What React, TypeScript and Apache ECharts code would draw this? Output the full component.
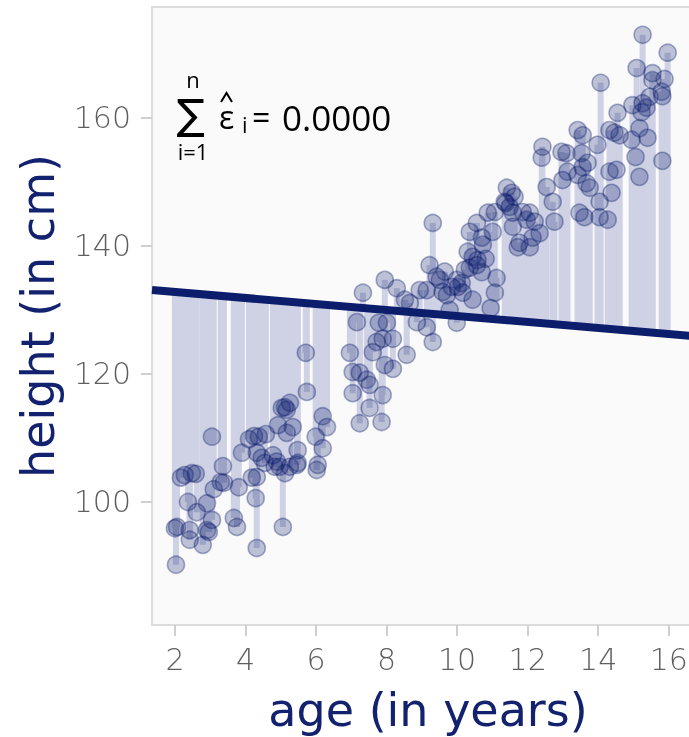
import React, { useEffect, useRef } from "react";
import * as echarts from "echarts";

const ages = [
  2.03, 2.06, 2.0, 2.17, 2.28, 2.48, 2.59, 2.37, 2.42, 2.42,
  2.62, 2.79, 2.91, 2.91, 2.96, 3.05, 3.05, 3.1, 3.3, 3.39,
  3.36, 3.67, 3.76, 3.81, 3.9, 4.1, 4.24, 4.38, 4.58, 4.18,
  4.32, 4.29, 4.32, 4.32, 4.46, 4.55, 4.78, 4.89, 4.83, 4.92,
  4.97, 5.12, 5.26, 5.46, 5.06, 5.03, 5.12, 5.17, 5.26, 5.17,
  5.34, 5.48, 5.48, 5.74, 5.71, 5.99, 6.19, 6.05, 6.02, 6.19,
  6.31,
  6.96, 7.16, 7.33, 7.04, 7.24, 7.44, 7.52, 7.04, 7.52, 7.24,
  7.86, 7.89, 7.61, 7.72, 7.89, 8.18, 7.78, 8.01, 7.95, 8.18,
  8.57, 7.95, 8.29, 8.52, 8.66, 8.86, 9.14, 8.94, 9.14, 9.31,
  9.22, 9.31, 9.42, 9.51, 9.65, 9.59, 9.71, 9.85, 9.99, 9.99,
  10.02, 10.13, 10.16, 9.79, 10.22, 10.36, 10.56, 10.7, 10.44, 10.3,
  10.44, 10.58, 10.81, 10.36, 10.56, 10.7, 10.73, 10.87, 11.01, 11.12,
  11.07, 10.95, 11.41, 11.38,
  11.55, 11.63, 11.35, 11.49, 11.58, 11.86, 12.06, 11.97, 12.2, 11.58,
  11.07, 12.34, 12.14, 11.77, 12.06, 11.72,
  12.42, 12.4, 12.54, 12.71, 12.76, 12.96, 13.1, 13.13, 12.99, 13.42,
  13.56, 13.98, 13.53, 13.7, 13.56, 13.42, 13.67, 13.76, 13.47, 13.61,
  14.04, 14.32, 14.52, 14.38, 14.04, 14.27, 14.07, 14.55, 14.32, 14.46,
  14.61, 14.95, 15.17, 15.4, 15.06, 15.17, 15.82, 15.26, 15.97, 15.09,
  15.54, 15.54, 15.88, 15.8, 15.82, 15.46, 15.26, 15.37, 15.23, 14.97,
];

const heights = [
  90.2, 96.1, 95.9, 103.8, 104.2, 104.5, 104.4, 100.0, 95.6, 94.1,
  98.4, 93.3, 99.8, 95.6, 95.3, 97.2, 110.2, 102.0, 103.1, 103.0,
  105.6, 97.5, 96.1, 102.3, 107.7, 109.8, 110.3, 110.2, 110.6, 103.8,
  103.9, 100.6, 92.8, 107.7, 106.9, 106.1, 107.3, 106.3, 105.5, 112.0,
  105.5, 104.5, 105.5, 105.8, 96.1, 114.7, 114.8, 114.4, 115.5, 110.8,
  111.7, 108.1, 106.1, 117.2, 123.3, 110.2, 108.4, 105.8, 105.0, 113.4,
  111.7,
  123.3, 128.1, 132.7, 120.3, 120.2, 119.1, 118.3, 117.0, 114.7, 112.3,
  112.5, 116.7, 123.4, 125.0, 125.5, 125.5, 128.0, 128.0, 121.4, 120.8,
  123.0, 134.7, 133.4, 131.6, 131.1, 128.1, 127.3, 133.1, 133.1, 125.0,
  137.0, 143.6, 135.2, 134.7, 136.0, 132.8, 132.3, 133.6, 128.0, 134.7,
  133.6, 134.2, 132.7, 130.0, 136.3, 136.6, 137.0, 135.9, 131.6, 139.1,
  138.3, 137.8, 138.0, 142.2, 143.6, 141.3, 140.2, 145.2, 142.2, 135.0,
  132.7, 130.3, 149.1, 146.7,
  148.3, 147.7, 146.9, 146.1, 145.2, 145.3, 145.2, 144.1, 143.8, 143.0,
  145.3, 142.0, 141.3, 140.5, 139.8, 139.8,
  155.5, 153.8, 149.2, 146.9, 143.8, 154.7, 154.5, 151.6, 150.3, 158.1,
  157.3, 155.8, 154.5, 153.0, 152.3, 151.1, 149.8, 149.1, 145.2, 144.5,
  144.5, 151.6, 151.9, 148.3, 146.9, 144.1, 165.5, 160.8, 158.1, 157.7,
  157.3, 156.6, 158.4, 156.9, 153.9, 150.8, 153.3, 173.0, 170.2, 167.8,
  167.0, 165.9, 166.1, 164.1, 163.4, 163.3, 162.3, 161.6, 160.9, 162.0,
];

// fitted line endpoints (age, height)
const lineAges = [1.35, 17.0];
const lineHeights = [133.12, 125.77];

const xTicks = [2, 4, 6, 8, 10, 12, 14, 16];
const yTicks = [100, 120, 140, 160];

const NAVY = "#0c1d6c";

export default function App() {
  const ref = useRef<HTMLDivElement>(null);
  useEffect(() => {
    if (!ref.current) return;
    const chart = echarts.init(ref.current, null, { renderer: "svg" });
    const slope = (lineHeights[1] - lineHeights[0]) / (lineAges[1] - lineAges[0]);
    const fitted = (a: number) => lineHeights[0] + slope * (a - lineAges[0]);
    const pts = ages.map((a, i) => [a, heights[i]]);
    const segs = ages.map((a, i) => [a, heights[i], fitted(a)]);

    const tickFont = { color: "#5f5f5f", fontSize: 30, fontFamily: "DejaVu Sans", fontWeight: 200 as any };
    const titleFont = { color: "#13226f", fontSize: 46, fontFamily: "DejaVu Sans" };

    chart.setOption({
      animation: false,
      grid: {
        left: 152,
        top: 7,
        width: 552,
        height: 618,
        show: true,
        backgroundColor: "#fafafa",
        borderColor: "#dcdcdc",
        borderWidth: 2,
        containLabel: false,
        outerBoundsMode: "none",
      },
      xAxis: {
        type: "value",
        min: 1.35,
        max: 17.0,
        name: "age (in years)",
        nameLocation: "middle",
        nameGap: 62,
        nameTextStyle: titleFont,
        axisLine: { show: false },
        splitLine: { show: false },
        axisTick: { show: true, length: 11, lineStyle: { color: "#cfcfcf", width: 2 }, customValues: xTicks },
        axisLabel: { ...tickFont, margin: 19, customValues: xTicks, showMinLabel: true, showMaxLabel: true },
      },
      yAxis: {
        type: "value",
        min: 80.78,
        max: 177.34,
        name: "height (in cm)",
        nameLocation: "middle",
        nameGap: 91,
        nameRotate: 90,
        nameTextStyle: titleFont,
        axisLine: { show: false },
        splitLine: { show: false },
        axisTick: { show: true, length: 11, lineStyle: { color: "#cfcfcf", width: 2 }, customValues: yTicks },
        axisLabel: { ...tickFont, margin: 21, customValues: yTicks },
      },
      series: [
        {
          type: "custom",
          z: 1,
          data: segs,
          renderItem: (params: any, api: any) => {
            const p1 = api.coord([api.value(0), api.value(1)]);
            const p2 = api.coord([api.value(0), api.value(2)]);
            return {
              type: "line",
              shape: { x1: p1[0], y1: p1[1], x2: p2[0], y2: p2[1] },
              style: { stroke: "#ced2e4", lineWidth: 6 },
            };
          },
          clip: true,
        },
        {
          type: "scatter",
          z: 2,
          data: pts,
          symbolSize: 17,
          itemStyle: {
            color: "rgba(12,29,108,0.32)",
            borderColor: "rgba(12,29,108,0.45)",
            borderWidth: 1.6,
          },
        },
        {
          type: "line",
          z: 3,
          data: lineAges.map((a, i) => [a, lineHeights[i]]),
          symbol: "none",
          lineStyle: { color: NAVY, width: 8 },
          clip: true,
        },
      ],
      graphic: [
        { type: "text", x: 191, y: 114, style: { text: "∑", font: "42px 'DejaVu Sans'", fill: "#000", align: "center", verticalAlign: "middle" } },
        { type: "text", x: 193, y: 79, style: { text: "n", font: "22px 'Open Sans'", fill: "#000", align: "center", verticalAlign: "middle" } },
        { type: "text", x: 193, y: 151, style: { text: "i=1", font: "22px 'Open Sans'", fill: "#000", align: "center", verticalAlign: "middle" } },
        { type: "text", x: 219, y: 116, style: { text: "ε", font: "32px 'Open Sans'", fill: "#000", align: "left", verticalAlign: "middle" } },
        { type: "polyline", shape: { points: [[221, 102], [226.5, 93], [232, 102]] }, style: { stroke: "#000", lineWidth: 2, fill: "none" } },
        { type: "text", x: 242, y: 124, style: { text: "i", font: "22px 'Open Sans'", fill: "#000", align: "left", verticalAlign: "middle" } },
        { type: "text", x: 252, y: 116, style: { text: "=", font: "32px 'Open Sans'", fill: "#000", align: "left", verticalAlign: "middle" } },
        { type: "text", x: 282, y: 117, style: { text: "0.0000", font: "35px 'Open Sans'", fill: "#000", align: "left", verticalAlign: "middle" } },
      ],
    });
    return () => chart.dispose();
  }, []);
  return <div ref={ref} style={{ position: "fixed", left: 0, top: 0, width: 689, height: 737 }} />;
}
